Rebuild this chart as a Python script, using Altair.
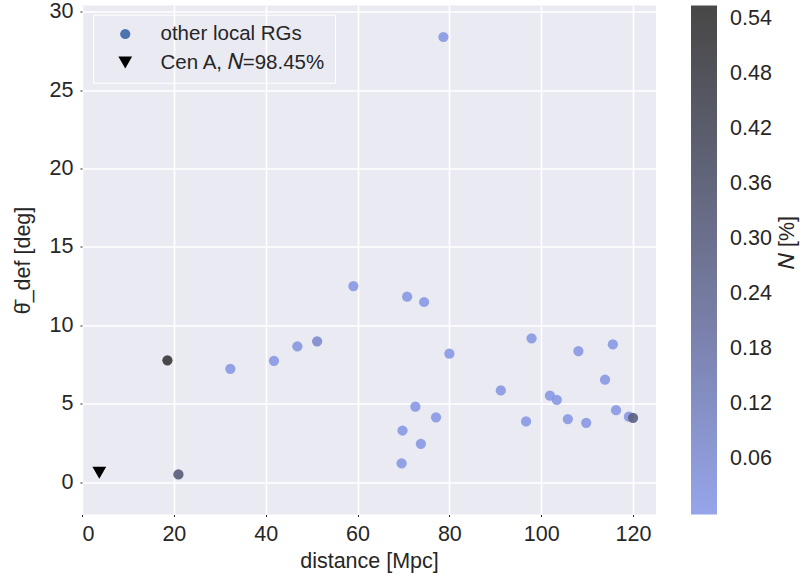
import altair as alt
import pandas as pd

# other local radio galaxies
dist = [78.7, 59.1, 70.8, 74.5, 32.3, 41.8, 46.9, 51.2, 18.6, 21.0,
        80.0, 91.2, 72.6, 77.1, 69.8, 73.8, 69.6, 97.9, 96.7, 101.9,
        103.4, 105.8, 108.1, 109.8, 113.9, 115.6, 116.3, 119.1, 120.0]
theta = [28.40, 12.51, 11.83, 11.49, 7.23, 7.74, 8.66, 8.98, 7.77, 0.49,
         8.19, 5.85, 4.81, 4.13, 3.29, 2.44, 1.19, 9.17, 3.87, 5.51,
         5.25, 4.02, 8.36, 3.78, 6.53, 8.79, 4.59, 4.17, 4.10]
N_frac = [0.01, 0.01, 0.01, 0.01, 0.01, 0.01, 0.02, 0.08, 0.53, 0.33,
          0.01, 0.01, 0.01, 0.01, 0.01, 0.01, 0.01, 0.01, 0.01, 0.01,
          0.01, 0.01, 0.01, 0.01, 0.01, 0.01, 0.01, 0.01, 0.30]

# Cen A
cen_dist = [3.77]
cen_theta = [0.59]

legend_labels = ["other local RGs", "Cen A, 𝑁=98.45%"]
cbar_title = ["𝑁 [%]"]
x_ticks = [0, 20, 40, 60, 80, 100, 120]
y_ticks = [0, 5, 10, 15, 20, 25, 30]
cbar_ticks = [0.06, 0.12, 0.18, 0.24, 0.30, 0.36, 0.42, 0.48, 0.54]

df = pd.DataFrame({"distance": dist, "theta": theta, "N": N_frac})
cen = pd.DataFrame({"distance": cen_dist, "theta": cen_theta, "label": [legend_labels[1]]})

FONT = "Liberation Sans"
TXT = "#262626"
FS = 21.5

x_enc = alt.X("distance:Q",
              scale=alt.Scale(domain=[0, 125], nice=False, zero=False),
              axis=alt.Axis(values=x_ticks, title="distance [Mpc]", format="d"))
y_enc = alt.Y("theta:Q",
              scale=alt.Scale(domain=[-2.07, 30.41], nice=False, zero=False),
              axis=alt.Axis(values=y_ticks, title="θ̄_def [deg]", format="d"))

points = alt.Chart(df).mark_circle(size=105, opacity=0.9).encode(
    x=x_enc, y=y_enc,
    color=alt.Color("N:Q",
                    scale=alt.Scale(domain=[0, 0.555], range=["#8a9be8", "#333333"]),
                    legend=alt.Legend(orient="none", legendX=609, legendY=0,
                                      direction="vertical", gradientLength=509,
                                      gradientThickness=26, gradientStrokeWidth=0,
                                      values=cbar_ticks, format=".2f",
                                      labelFontSize=FS, labelColor=TXT, labelFont=FONT,
                                      labelOffset=13, labelOverlap=False, title=None)),
)

leg = alt.Legend(orient="none", legendX=11, legendY=9.25, title=None,
                 labelFontSize=20.5, labelColor=TXT, labelFont=FONT, labelLimit=400,
                 strokeColor="white", padding=9, rowPadding=7.5,
                 symbolOffset=13, labelOffset=25, symbolStrokeWidth=0)

tri = alt.Chart(cen).mark_point(filled=True, opacity=1, strokeWidth=0).encode(
    x=x_enc, y=y_enc,
    fill=alt.Fill("label:N", scale=alt.Scale(domain=legend_labels, range=["#4c72b0", "black"]), legend=leg),
    shape=alt.Shape("label:N", scale=alt.Scale(domain=legend_labels, range=["circle", "triangle-down"]), legend=leg),
    size=alt.Size("label:N", scale=alt.Scale(domain=legend_labels, range=[105, 190]), legend=leg),
)

ctitle = alt.Chart(pd.DataFrame({"t": cbar_title})).mark_text(
    angle=270, font=FONT, fontSize=FS, color=TXT, align="center", baseline="middle"
).encode(x=alt.value(706), y=alt.value(237), text="t:N")

chart = alt.layer(points, tri, ctitle).properties(
    width=574, height=509,
    padding={"left": 82, "top": 5.5, "right": 146, "bottom": 66.5},
    autosize=alt.AutoSizeParams(type="none"),
).configure_view(fill="#EAEAF2", stroke=None).configure_axis(
    grid=True, gridColor="white", gridWidth=1.6, domain=False,
    tickSize=2, tickColor=TXT, labelFont=FONT, labelFontSize=FS, labelColor=TXT,
    titleFont=FONT, titleFontSize=FS, titleFontWeight="normal", titleColor=TXT,
    labelPadding=7,
).configure_axisX(titlePadding=5).configure_axisY(titlePadding=15)

chart.save("out.html", embed_options={"renderer": "svg", "actions": False})
